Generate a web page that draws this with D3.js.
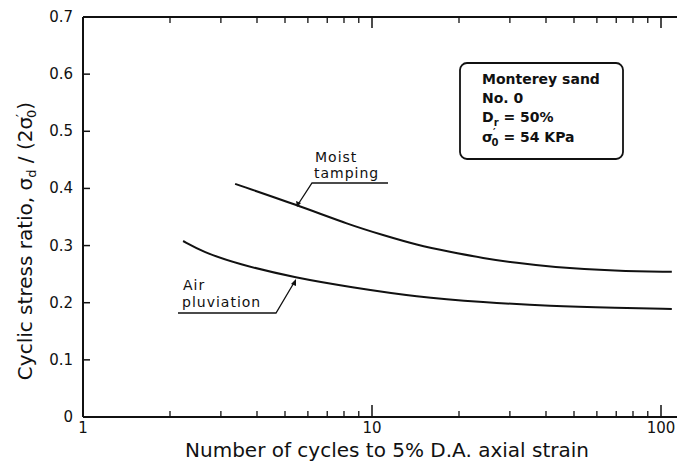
<!DOCTYPE html>
<html><head><meta charset="utf-8">
<script src="https://cdn.jsdelivr.net/npm/d3@7"></script>
<style>body{margin:0;background:#fff}svg{display:block}text{font-family:"DejaVu Sans",sans-serif;fill:#111}</style>
</head><body><svg id="c" width="677" height="461"></svg>
<script>
const yTicks = [0,0.1,0.2,0.3,0.4,0.5,0.6,0.7];
const yTickLabels = ["0","0.1","0.2","0.3","0.4","0.5","0.6","0.7"];
const xMajor = [1,10,100];
const xMajorLabels = ["1","10","100"];
const xMinor = [2,3,4,5,6,7,8,9,20,30,40,50,60,70,80,90];
const moistN = [3.36,5.5,8.4,10.9,14.3,18.6,24.2,31.8,41.3,70.4,109];
const moistR = [0.408,0.371,0.336,0.3185,0.301,0.289,0.278,0.2695,0.2625,0.2555,0.254];
const airN = [2.22,2.6,3.41,5.5,8.4,14.3,24.2,41.3,70.4,109];
const airR = [0.308,0.289,0.268,0.243,0.2275,0.21,0.201,0.194,0.191,0.189];
const boxLines = ["Monterey sand","No. 0"];

const svg = d3.select("#c");
const x = d3.scaleLog().domain([1,100]).range([83,661]);
const y = d3.scaleLinear().domain([0,0.7]).range([417,17]);

// axes frame
svg.append("line").attr("x1",x(1)).attr("x2",677).attr("y1",y(0)).attr("y2",y(0)).attr("stroke","#111").attr("stroke-width",2);
svg.append("line").attr("x1",x(1)).attr("x2",677).attr("y1",y(0.7)).attr("y2",y(0.7)).attr("stroke","#111").attr("stroke-width",2);
svg.append("line").attr("x1",x(1)).attr("x2",x(1)).attr("y1",y(0)).attr("y2",y(0.7)).attr("stroke","#111").attr("stroke-width",2);

// y ticks
svg.selectAll(".yt").data(yTicks).enter().append("line")
  .attr("x1",x(1)).attr("x2",x(1)+7).attr("y1",d=>y(d)).attr("y2",d=>y(d)).attr("stroke","#111").attr("stroke-width",1.5);
svg.selectAll(".yl").data(yTicks).enter().append("text")
  .attr("x",x(1)-10).attr("y",d=>y(d)+5).attr("text-anchor","end").attr("font-size",15).text((d,i)=>yTickLabels[i]);

// x ticks bottom and top
svg.selectAll(".xmb").data(xMinor).enter().append("line")
  .attr("x1",d=>x(d)).attr("x2",d=>x(d)).attr("y1",y(0)).attr("y2",y(0)-6).attr("stroke","#111").attr("stroke-width",1.3);
svg.selectAll(".xmt").data(xMinor).enter().append("line")
  .attr("x1",d=>x(d)).attr("x2",d=>x(d)).attr("y1",y(0.7)).attr("y2",y(0.7)+6).attr("stroke","#111").attr("stroke-width",1.3);
svg.selectAll(".xMb").data(xMajor.slice(1)).enter().append("line")
  .attr("x1",d=>x(d)).attr("x2",d=>x(d)).attr("y1",y(0)).attr("y2",y(0)-12).attr("stroke","#111").attr("stroke-width",1.5);
svg.selectAll(".xMt").data(xMajor.slice(1)).enter().append("line")
  .attr("x1",d=>x(d)).attr("x2",d=>x(d)).attr("y1",y(0.7)).attr("y2",y(0.7)+11).attr("stroke","#111").attr("stroke-width",1.5);
svg.selectAll(".xl").data(xMajor).enter().append("text")
  .attr("x",d=>x(d)).attr("y",y(0)+16).attr("text-anchor","middle").attr("font-size",15).text((d,i)=>xMajorLabels[i]);

// axis titles
svg.append("text").attr("x",387).attr("y",457).attr("text-anchor","middle").attr("font-size",20)
  .text("Number of cycles to 5% D.A. axial strain");
const yt = svg.append("text").attr("transform","translate(32,241) rotate(-90)").attr("text-anchor","middle").attr("font-size",20);
yt.append("tspan").text("Cyclic stress ratio, σ");
yt.append("tspan").attr("font-size",13).attr("dy",4).text("d");
yt.append("tspan").attr("dy",-4).text(" / (2σ");
yt.append("tspan").attr("font-size",13).attr("dy",-7).text("′");
yt.append("tspan").attr("font-size",13).attr("dy",11).attr("dx",-4).text("0");
yt.append("tspan").attr("dy",-4).text(")");

// curves
const line = d3.line().x(d=>x(d[0])).y(d=>y(d[1])).curve(d3.curveBasis);
svg.append("path").attr("d",line(d3.zip(moistN,moistR))).attr("fill","none").attr("stroke","#111").attr("stroke-width",2);
svg.append("path").attr("d",line(d3.zip(airN,airR))).attr("fill","none").attr("stroke","#111").attr("stroke-width",2);

// labels with leaders
const lab = {"font-size":14,"letter-spacing":1};
function T(xx,yy,s){const t=svg.append("text").attr("x",xx).attr("y",yy).text(s);for(const k in lab)t.attr(k,lab[k]);return t;}
T(315,162,"Moist");
T(314,178,"tamping");
svg.append("path").attr("d","M388,183 L312,183 L297,206").attr("fill","none").attr("stroke","#111").attr("stroke-width",1.3);
T(183,290,"Air");
T(182,307,"pluviation");
svg.append("path").attr("d","M178,313 L276,313 L295,281").attr("fill","none").attr("stroke","#111").attr("stroke-width",1.3);
svg.append("path").attr("d","M296,279 L291,284 L296,286 Z").attr("fill","#111");
svg.append("path").attr("d","M297,207 L296,201 L301,203 Z").attr("fill","#111");

// box
svg.append("rect").attr("x",460).attr("y",63).attr("width",163).attr("height",96).attr("rx",7)
  .attr("fill","none").attr("stroke","#111").attr("stroke-width",1.8);
const bx = 482;
svg.append("text").attr("x",bx).attr("y",84).attr("font-size",14).attr("font-weight","bold").text(boxLines[0]);
svg.append("text").attr("x",bx).attr("y",103).attr("font-size",14).attr("font-weight","bold").text(boxLines[1]);
const t3 = svg.append("text").attr("x",bx).attr("y",122).attr("font-size",14).attr("font-weight","bold");
t3.append("tspan").text("D");
t3.append("tspan").attr("font-size",10).attr("dy",4).text("r");
t3.append("tspan").attr("dy",-4).text(" = 50%");
const t4 = svg.append("text").attr("x",bx).attr("y",142).attr("font-size",14).attr("font-weight","bold");
t4.append("tspan").text("σ");
t4.append("tspan").attr("font-size",10).attr("dy",-6).text("′");
t4.append("tspan").attr("font-size",10).attr("dy",10).attr("dx",-4).text("0");
t4.append("tspan").attr("dy",-4).text(" = 54 KPa");
</script></body></html>
